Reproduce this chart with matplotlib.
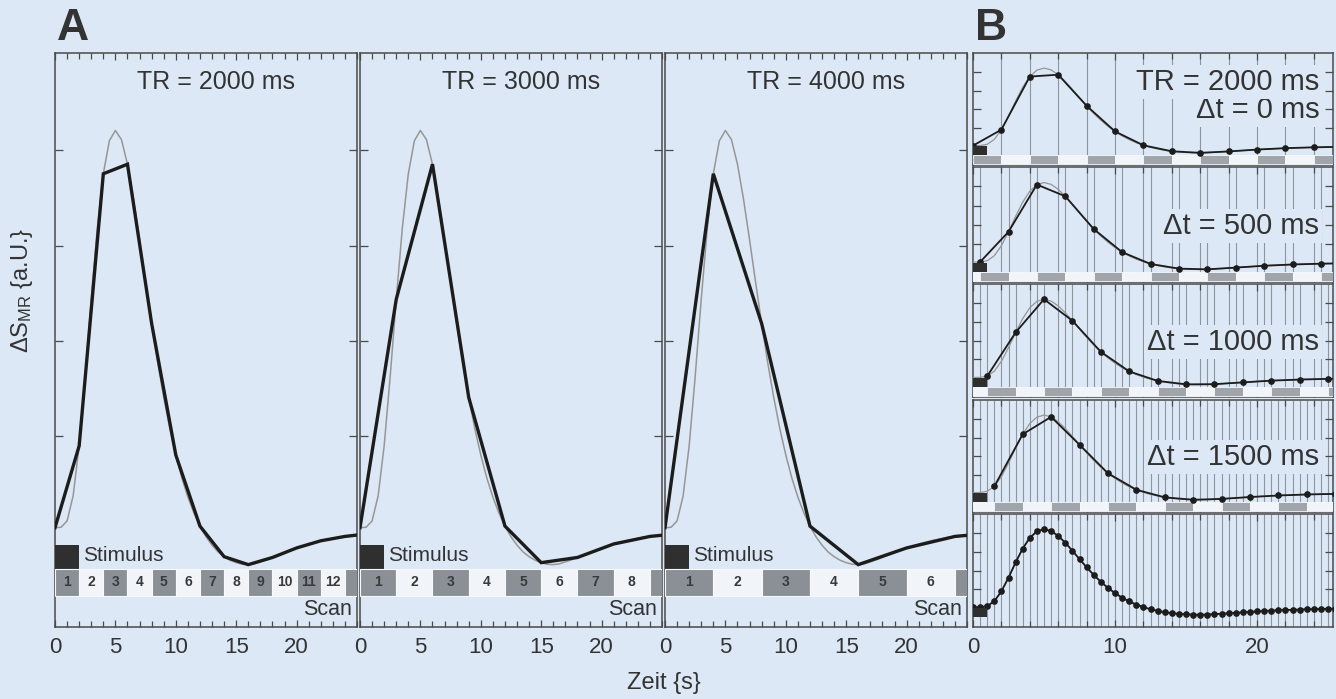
import numpy as np
import matplotlib
matplotlib.use("Agg")
import matplotlib.pyplot as plt
from matplotlib.patches import Rectangle
from matplotlib.ticker import FixedLocator, MultipleLocator

plt.rcParams['font.family'] = ['Liberation Sans', 'DejaVu Sans']
plt.rcParams['mathtext.default'] = 'regular'

# ---------------- data ----------------
# haemodynamic response (peak = 1), sampled every 0.5 s from 0 to 28 s
hrf_step_s = 0.5
hrf = np.array([
    0.000, 0.001, 0.017, 0.080, 0.206, 0.381, 0.575, 0.753, 0.891, 0.974,
    1.000, 0.977, 0.915, 0.827, 0.725, 0.618, 0.514, 0.416, 0.328, 0.250,
    0.183, 0.125, 0.077, 0.037, 0.004, -0.023, -0.044, -0.061, -0.073, -0.082,
    -0.088, -0.092, -0.093, -0.091, -0.086, -0.081, -0.075, -0.069, -0.063, -0.057,
    -0.051, -0.046, -0.041, -0.037, -0.033, -0.030, -0.027, -0.024, -0.022, -0.020,
    -0.018, -0.016, -0.015, -0.014, -0.013, -0.012, -0.011,
])
hrf_t = np.arange(len(hrf)) * hrf_step_s

tr_ms = [2000, 3000, 4000]          # repetition times, panel A
shift_ms = [0, 500, 1000, 1500]     # sampling offsets, panel B (TR = 2000 ms)
stim_a_s = 2.0
stim_b_s = 1.0
xticks_a = [0, 5, 10, 15, 20]
xticks_b = [0, 10, 20]
yticks = [0.23, 0.47, 0.71, 0.95]

# ---------------- style ----------------
BG = '#dce8f5'
INK = '#333333'
SPINE = '#4a4a4a'
TRUE_C = '#969696'
SAMPLE_C = '#1c1c1c'
BLOCK_DARK = '#8b9096'
BLOCK_LIGHT = '#f1f5f9'
BLOCK_EDGE = '#f7f9fb'
STIM_C = '#2f2f2f'
VLINE_C = '#8d959e'
YLIM = (-0.25, 1.195)

W, H = 1336, 699
fig = plt.figure(figsize=(W / 100, H / 100), dpi=100, facecolor=BG)


def px_axes(left, top, right, bottom):
    return fig.add_axes([left / W, 1 - bottom / H, (right - left) / W, (bottom - top) / H])


def sample(offset_s, tr_s):
    i0 = int(round(offset_s / hrf_step_s))
    di = int(round(tr_s / hrf_step_s))
    idx = np.arange(i0, len(hrf), di)
    return hrf_t[idx], hrf[idx]


def frame(ax, xmax, major, minor_step, labels):
    ax.set_facecolor(BG)
    ax.set_xlim(0, xmax)
    ax.set_ylim(*YLIM)
    for s in ax.spines.values():
        s.set_color(SPINE)
        s.set_linewidth(1.1)
    ax.xaxis.set_major_locator(FixedLocator(major))
    ax.xaxis.set_minor_locator(MultipleLocator(minor_step))
    ax.yaxis.set_major_locator(FixedLocator(yticks))
    ax.tick_params(axis='both', which='both', direction='in', color=SPINE,
                   top=True, right=True, width=0.9)
    ax.tick_params(axis='x', which='major', length=5, labelsize=16,
                   labelcolor=INK, pad=7)
    ax.tick_params(axis='x', which='minor', length=4)
    ax.tick_params(axis='y', which='major', length=6, labelleft=False)
    if not labels:
        ax.tick_params(axis='x', labelbottom=False)


# ---------------- panel A ----------------
a_cols = [(55, 357), (360, 662), (665, 967)]
for (l, r), tr in zip(a_cols, tr_ms):
    ax = px_axes(l, 53, r, 627)
    frame(ax, 25, xticks_a, 1, True)
    tr_s = tr / 1000
    ax.plot(hrf_t, hrf, color=TRUE_C, lw=1.1, zorder=4, solid_joinstyle='round')
    ts, ys = sample(0, tr_s)
    ax.plot(ts, ys, color=SAMPLE_C, lw=2.4, zorder=5, solid_joinstyle='miter')

    # stimulus and scan timeline
    ax.add_patch(Rectangle((0, -0.103), stim_a_s, 0.060, fc=STIM_C, ec='none', zorder=3))
    ax.text(stim_a_s + 0.35, -0.071, 'Stimulus', fontsize=15, color=INK,
            va='center', ha='left', zorder=6)
    n_blocks = int(np.ceil(25 / tr_s))
    for j in range(n_blocks):
        x0 = j * tr_s
        ax.add_patch(Rectangle((x0, -0.171), tr_s, 0.068,
                               fc=BLOCK_DARK if j % 2 == 0 else BLOCK_LIGHT,
                               ec=BLOCK_EDGE, lw=0.8, zorder=3))
        if x0 + tr_s <= 25:
            ax.text(x0 + tr_s / 2, -0.137, str(j + 1), fontsize=10,
                    fontweight='bold', color='#3a3a3a', ha='center', va='center', zorder=6)
    ax.text(24.6, -0.207, 'Scan', fontsize=15.5, color=INK, ha='right', va='center')
    ax.text(0.533, 0.95, f'TR = {tr} ms', transform=ax.transAxes, fontsize=18,
            color=INK, ha='center', va='center')

# ---------------- panel B ----------------
b_rows = [(53, 165), (167, 282), (284, 397), (400, 512), (514, 627)]
b_xmax = 25.35
tr_b = tr_ms[0] / 1000
for k, (top, bot) in enumerate(b_rows):
    ax = px_axes(973, top, 1333, bot)
    frame(ax, b_xmax, xticks_b, 2, k == 4)

    if k < 4:
        line_offsets = [s / 1000 for s in shift_ms[:k + 1]]
        ts, ys = sample(shift_ms[k] / 1000, tr_b)
    else:
        line_offsets = [s / 1000 for s in shift_ms]
        ts, ys = hrf_t, hrf
    for off in line_offsets:
        vt = np.arange(off, b_xmax, tr_b)
        ax.vlines(vt[vt > 0], YLIM[0], YLIM[1], color=VLINE_C, lw=0.8, zorder=1)

    ax.plot(hrf_t, hrf, color=TRUE_C, lw=0.9, zorder=4)
    ax.plot(ts, ys, color=SAMPLE_C, lw=1.3, marker='o', ms=3.8, zorder=5)
    ax.add_patch(Rectangle((0, -0.12), stim_b_s, 0.115, fc=STIM_C, ec='none', zorder=6))

    if k < 4:
        off = shift_ms[k] / 1000
        for m in range(-1, 14):
            x0 = off + m * tr_b
            if x0 + tr_b <= 0:
                continue
            ax.add_patch(Rectangle((x0, -0.236), tr_b, 0.116,
                                   fc='#9fa5ab' if m % 2 == 0 else BLOCK_LIGHT,
                                   ec=BLOCK_EDGE, lw=0.6, zorder=3))
        box = dict(boxstyle='square,pad=0.1', fc=BG, ec='none')
        ax.text(0.962, 0.49, f'\u0394t = {shift_ms[k]} ms', transform=ax.transAxes,
                fontsize=21, color=INK, ha='right', va='center', bbox=box, zorder=7)
        if k == 0:
            ax.text(0.962, 0.74, f'TR = {tr_ms[0]} ms', transform=ax.transAxes,
                    fontsize=21, color=INK, ha='right', va='center', bbox=box, zorder=7)

# ---------------- figure labels ----------------
fig.text(57 / W, 1 - 28 / H, 'A', fontsize=32, fontweight='bold', color=INK,
         ha='left', va='center')
fig.text(975 / W, 1 - 28 / H, 'B', fontsize=32, fontweight='bold', color=INK,
         ha='left', va='center')
fig.text(664 / W, 1 - 683 / H, 'Zeit {s}', fontsize=17, color=INK,
         ha='center', va='center')
fig.text(22 / W, 1 - 290 / H, '\u0394S$_{MR}$ {a.U.}', fontsize=17, color=INK,
         ha='center', va='center', rotation=90)

fig.savefig('out.png', dpi=100, facecolor=BG)
